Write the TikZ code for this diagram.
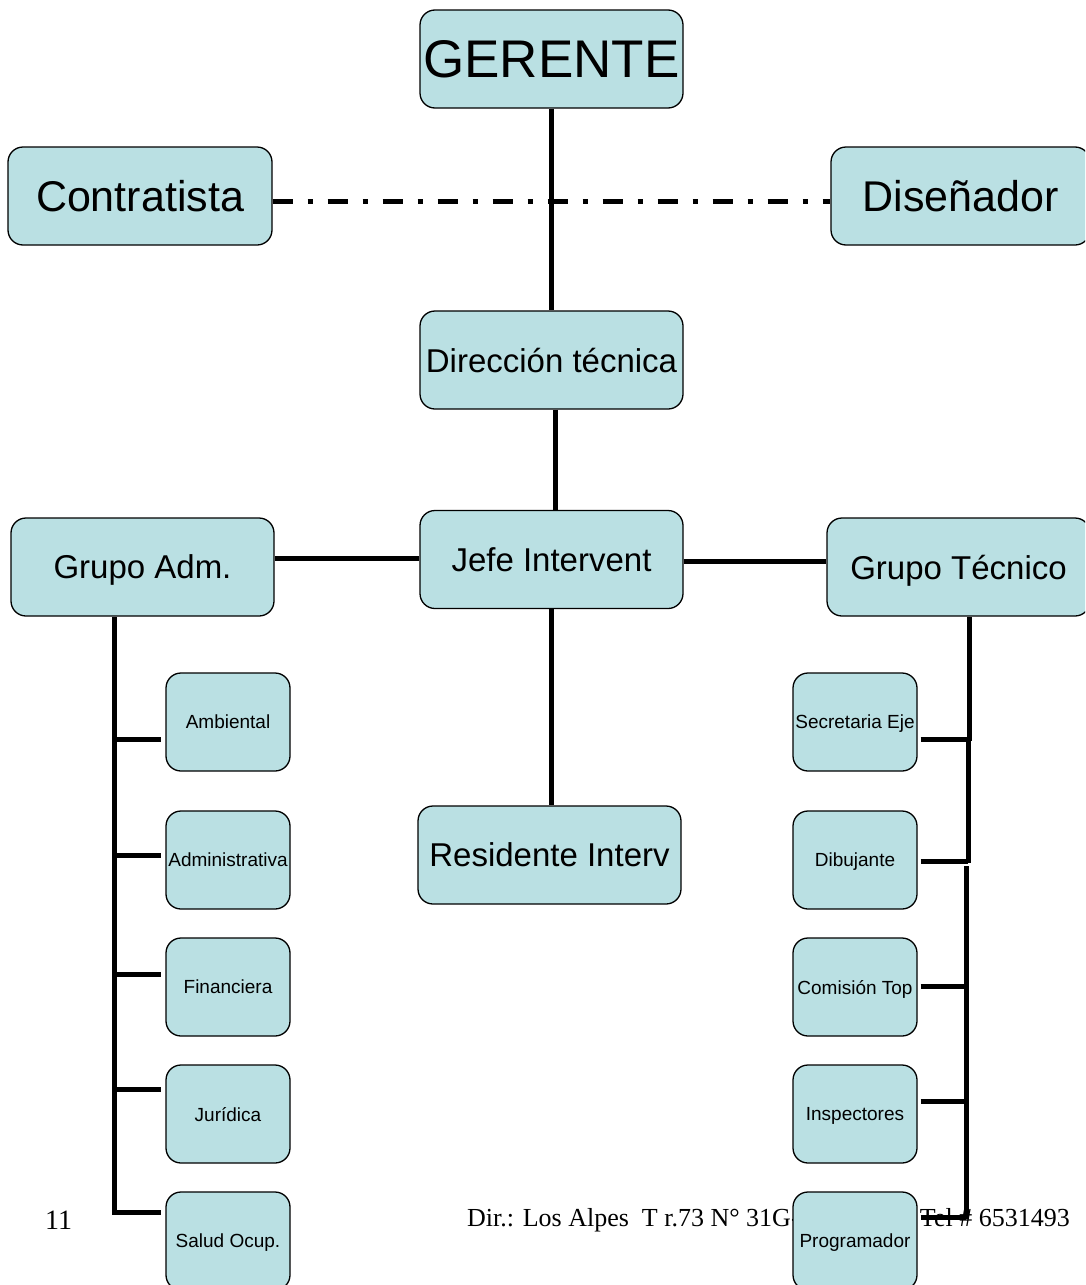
\documentclass[tikz,border=0pt]{standalone}
\usepackage{fontspec}
\setmainfont{Liberation Sans}
\newfontfamily\serifft{Liberation Serif}
\usetikzlibrary{calc}
\definecolor{boxfill}{RGB}{186,224,227}
\begin{document}
\begin{tikzpicture}[x=1pt,y=-1pt,
  box/.style={draw=black, line width=1.3pt, fill=boxfill, rounded corners=15pt, inner sep=0pt, align=center, text depth=0pt},
  big/.style={box, minimum width=263pt, minimum height=98pt, font=\fontsize{33}{38}\selectfont},
  small/.style={box, minimum width=124pt, minimum height=98pt, font=\fontsize{19}{22}\selectfont},
  link/.style={line width=5pt},
  foot/.style={inner sep=0pt, font=\serifft\fontsize{26}{30}\selectfont}]
\useasboundingbox (0,0) rectangle (1085,1285);
\clip (0,0) rectangle (1085,1285);
% footer (behind boxes)
\node[foot, anchor=base west, font=\serifft\fontsize{28}{32}\selectfont] (pg) at (45,1229) {11};
\node[foot, anchor=base west] (dir) at (467,1226) {Dir.: Los Alpes\ \ T r.73 N° 31G-};
\node[foot, anchor=base east] (tel) at (1070,1226) {Tel \# 6531493};
% main boxes
\node[big, font=\fontsize{53}{60}\selectfont] (g) at (551.5,59) {GERENTE};
\node[big, minimum width=264pt, font=\fontsize{43}{50}\selectfont] (con) at (140,196) {Contratista};
\node[big, minimum width=259pt, font=\fontsize{43}{50}\selectfont] (dis) at (960.5,196) {Diseñador};
\node[big] (dt) at (551.5,360) {Dirección técnica};
\node[big] (jefe) at (551.5,559.5) {Jefe Intervent};
\node[big] (adm) at (142.5,567) {Grupo Adm.};
\node[big] (tec) at (958.5,567) {Grupo Técnico};
\node[big] (res) at (549.5,855) {Residente Interv};
% left column
\node[small] (amb) at (228,722) {Ambiental};
\node[small] (admi) at (228,860) {Administrativa};
\node[small] (fin) at (228,987) {Financiera};
\node[small] (jur) at (228,1114) {Jurídica};
\node[small] (sal) at (228,1241) {Salud Ocup.};
% right column
\node[small] (sec) at (855,722) {Secretaria Eje};
\node[small] (dib) at (855,860) {Dibujante};
\node[small] (com) at (855,987) {Comisión Top};
\node[small] (ins) at (855,1114) {Inspectores};
\node[small] (pro) at (855,1241) {Programador};
% connectors
\draw[link] (g.south) -- (dt.north);
\draw[line width=5pt, dash pattern=on 20pt off 15pt on 5pt off 15pt] ([yshift=-5pt]con.east) -- ([yshift=-5pt]dis.west);
\draw[link] ([xshift=3.5pt]dt.south) -- ([xshift=3.5pt]jefe.north);
\draw[link] ([yshift=1.5pt]jefe.west) -- ([yshift=1.5pt]jefe.west -| adm.east);
\draw[link] ([yshift=-1.5pt]jefe.east) -- ([yshift=-1.5pt]jefe.east -| tec.west);
\draw[link] (jefe.south) -- (jefe.south |- res.north);
% left tree
\coordinate (lt) at (114,617);
\coordinate (lb) at (114,1212);
\draw[link] (lt) -- (lb) -- ([xshift=-4pt]lb -| sal.west);
\draw[link] ([yshift=-17pt]amb.west -| lt) -- ([yshift=-17pt,xshift=-4pt]amb.west);
\draw[link] ([yshift=5pt]admi.west -| lt) -- ([yshift=5pt,xshift=-4pt]admi.west);
\draw[link] ([yshift=13pt]fin.west -| lt) -- ([yshift=13pt,xshift=-4pt]fin.west);
\draw[link] ([yshift=25pt]jur.west -| lt) -- ([yshift=25pt,xshift=-4pt]jur.west);
% right tree
\coordinate (r1) at (969,617);
\coordinate (r2) at (969,741);
\coordinate (r3) at (968,741);
\coordinate (r4) at (968,863);
\coordinate (r5) at (966,866);
\coordinate (r6) at (966,1219);
\draw[link] (r1) -- (r2);
\draw[link] (r3) -- (r4);
\draw[link] (r5) -- (r6);
\draw[link] ([yshift=-17pt,xshift=3pt]sec.east) -- ([yshift=-17pt]sec.east -| r1);
\draw[link] ([yshift=-1pt,xshift=3pt]dib.east) -- ([yshift=-1pt]dib.east -| r3);
\draw[link] ([yshift=1pt,xshift=3pt]com.east) -- ([yshift=1pt]com.east -| r5);
\draw[link] ([yshift=13pt,xshift=3pt]ins.east) -- ([yshift=13pt]ins.east -| r5);
\draw[link] ([yshift=24pt,xshift=3pt]pro.east) -- ([yshift=24pt]pro.east -| r5);
\end{tikzpicture}
\end{document}
